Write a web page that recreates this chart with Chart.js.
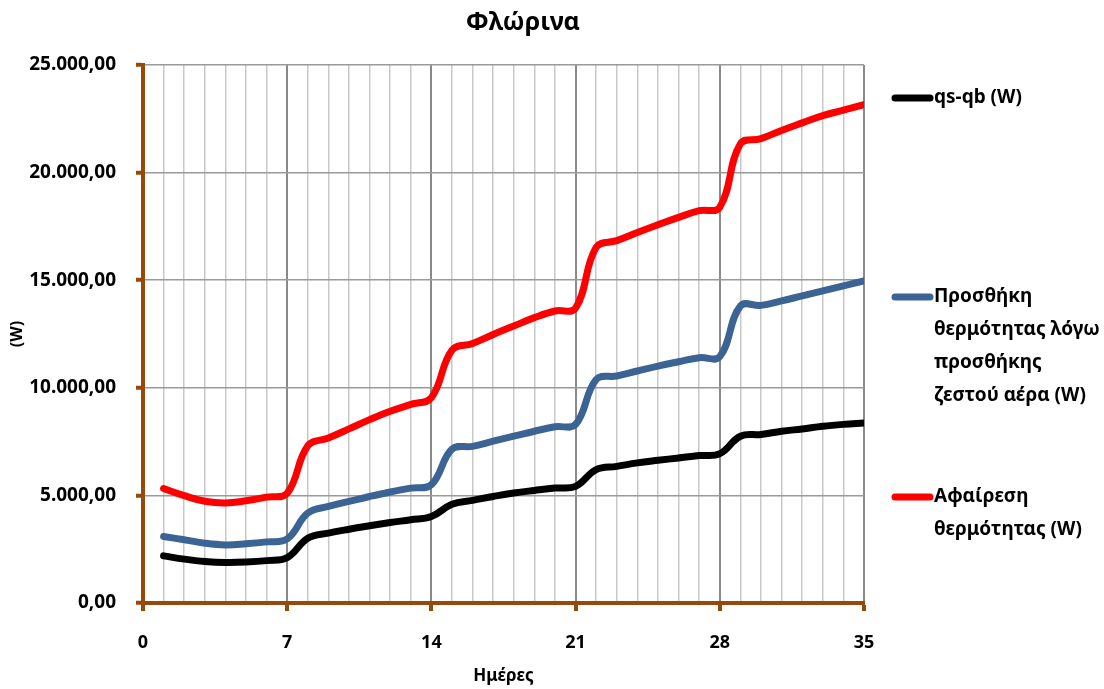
<!DOCTYPE html>
<html>
<head>
<meta charset="utf-8">
<script src="https://cdn.jsdelivr.net/npm/chart.js@4"></script>
<style>
  html, body { margin: 0; padding: 0; background: #fff; }
  #wrap { width: 1104px; height: 689px; }
</style>
</head>
<body>
<div id="wrap"><canvas id="chart"></canvas></div>
<script>
// values
const days = [1, 2, 3, 4, 5, 6, 7, 8, 9, 10, 11, 12, 13, 14, 15, 16, 17, 18,
              19, 20, 21, 22, 23, 24, 25, 26, 27, 28, 29, 30, 31, 32, 33, 34, 35];

const qsQb = [2190, 2040, 1930, 1880, 1900, 1970, 2110,
              3010, 3250, 3430, 3590, 3740, 3870, 4020,
              4590, 4770, 4950, 5110, 5230, 5340, 5420,
              6200, 6350, 6510, 6630, 6740, 6850, 6940,
              7750, 7830, 7980, 8090, 8210, 8300, 8370];

const addHeat = [3090, 2940, 2780, 2700, 2750, 2840, 2980,
                 4180, 4490, 4720, 4950, 5160, 5340, 5500,
                 7150, 7280, 7520, 7750, 7980, 8190, 8300,
                 10390, 10550, 10780, 11010, 11210, 11400, 11450,
                 13800, 13830, 14040, 14270, 14500, 14740, 14970];

const removeHeat = [5320, 4990, 4730, 4650, 4750, 4920, 5100,
                    7300, 7670, 8090, 8520, 8910, 9230, 9540,
                    11750, 12060, 12480, 12870, 13260, 13570, 13700,
                    16530, 16840, 17220, 17580, 17920, 18230, 18390,
                    21340, 21580, 21960, 22310, 22650, 22900, 23160];

const chartTitle = 'Φλώρινα';
const seriesNames = ['qs-qb (W)',
                     'Προσθήκη θερμότητας λόγω προσθήκης ζεστού αέρα (W)',
                     'Αφαίρεση θερμότητας (W)'];
// legend text split the way the picture shows it
const legendLines = [['qs-qb (W)'],
                     ['Προσθήκη', 'θερμότητας λόγω', 'προσθήκης', 'ζεστού αέρα (W)'],
                     ['Αφαίρεση', 'θερμότητας (W)']];
const xTickLabels = [0, 7, 14, 21, 28, 35];
const yTickValues = [0, 5000, 10000, 15000, 20000, 25000];

const brown = '#984807';
const FONT = "'Noto Sans', sans-serif";

function fmt(v) {
    const s = Math.round(v).toString().replace(/\B(?=(\d{3})+(?!\d))/g, '.');
    return s + ',00';
}

function toPoints(vals) {
    return vals.map((v, i) => ({x: days[i], y: v}));
}

// title + side legend drawn by hand so they sit where the original has them
const sideTextPlugin = {
    id: 'sideText',
    afterDraw(chart) {
        const ctx = chart.ctx;
        ctx.save();
        ctx.fillStyle = '#000';
        ctx.textBaseline = 'middle';
        ctx.textAlign = 'center';
        ctx.font = 'bold 25px ' + FONT;
        ctx.fillText(chartTitle, 523, 23);

        const tops = [98, 297, 497];
        ctx.textAlign = 'left';
        ctx.font = 'bold 19px ' + FONT;
        chart.data.datasets.forEach((ds, i) => {
            const y = tops[i];
            ctx.strokeStyle = ds.borderColor;
            ctx.lineWidth = 7;
            ctx.lineCap = 'round';
            ctx.beginPath();
            ctx.moveTo(895, y);
            ctx.lineTo(930, y);
            ctx.stroke();
            legendLines[i].forEach((t, j) => {
                ctx.fillText(t, 934, y + j * 33);
            });
        });
        ctx.restore();
    }
};

const ctx = document.getElementById('chart');
new Chart(ctx, {
    type: 'line',
    data: {
        datasets: [
            {
                label: seriesNames[0],
                data: toPoints(qsQb),
                borderColor: '#000000',
                backgroundColor: '#000000'
            },
            {
                label: seriesNames[1],
                data: toPoints(addHeat),
                borderColor: '#3b6494',
                backgroundColor: '#3b6494'
            },
            {
                label: seriesNames[2],
                data: toPoints(removeHeat),
                borderColor: '#ff0000',
                backgroundColor: '#ff0000'
            }
        ]
    },
    options: {
        responsive: true,
        maintainAspectRatio: false,
        animation: false,
        devicePixelRatio: 1,
        layout: {padding: {left: 0, top: 65, right: 240, bottom: 0}},
        elements: {
            line: {borderWidth: 7, tension: 0.4, borderCapStyle: 'round', borderJoinStyle: 'round'},
            point: {radius: 0}
        },
        plugins: {
            legend: {display: false},
            tooltip: {enabled: false},
            title: {display: false}
        },
        scales: {
            x: {
                type: 'linear',
                min: 0,
                max: 35,
                afterFit: s => { s.height = 86; },
                afterBuildTicks: s => {
                    s.ticks = [0].concat(days).map(v => ({value: v}));
                },
                ticks: {
                    autoSkip: false,
                    maxRotation: 0,
                    padding: 21,
                    color: '#000',
                    font: {family: FONT, size: 18, weight: 'bold'},
                    callback: v => xTickLabels.includes(v) ? String(v) : ''
                },
                grid: {
                    color: c => (c.tick && c.tick.value % 7 === 0) ? '#8a8a8a' : '#c8c8c8',
                    lineWidth: c => (c.tick && c.tick.value % 7 === 0) ? 2 : 1.5,
                    tickColor: c => (c.tick && c.tick.value % 7 === 0) ? brown : 'rgba(0,0,0,0)',
                    tickLength: 8,
                    tickWidth: 4
                },
                border: {color: brown, width: 4},
                title: {
                    display: true,
                    text: 'Ημέρες',
                    color: '#000',
                    font: {family: FONT, size: 17, weight: 'bold'},
                    padding: {top: 0, bottom: 3}
                }
            },
            y: {
                min: 0,
                max: 25000,
                afterFit: s => { s.width = 143; },
                afterBuildTicks: s => {
                    s.ticks = yTickValues.map(v => ({value: v}));
                },
                ticks: {
                    padding: 20,
                    color: '#000',
                    font: {family: FONT, size: 19, weight: 'bold'},
                    callback: v => fmt(v)
                },
                grid: {
                    color: '#9a9a9a',
                    lineWidth: 1.5,
                    tickColor: brown,
                    tickLength: 7,
                    tickWidth: 4
                },
                border: {color: brown, width: 4},
                title: {
                    display: true,
                    text: '(W)',
                    color: '#000',
                    font: {family: FONT, size: 16, weight: 'bold'},
                    padding: {top: 8, bottom: 0}
                }
            }
        }
    },
    plugins: [sideTextPlugin]
});
</script>
</body>
</html>
